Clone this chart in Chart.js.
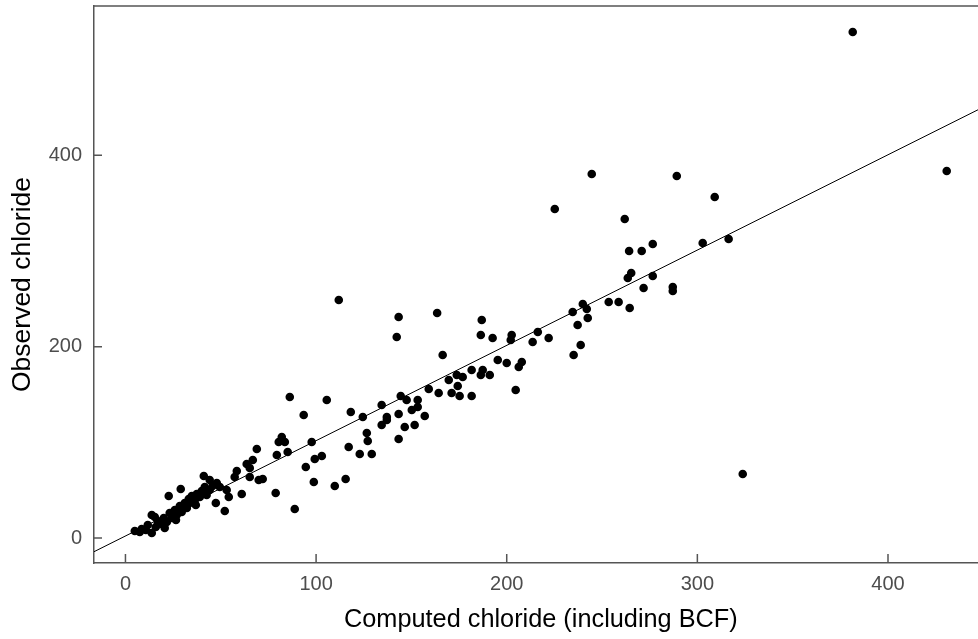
<!DOCTYPE html>
<html>
<head>
<meta charset="utf-8">
<script src="https://cdn.jsdelivr.net/npm/chart.js@4/dist/chart.umd.min.js"></script>
<style>
  html, body { margin: 0; padding: 0; background: #fff; overflow: hidden; }
  canvas { display: block; }
</style>
</head>
<body>
<canvas id="chart" width="992" height="639"></canvas>
<script>
/* ===== data ===== */
const computed = [
  381.5, 430.8, 323.8, 309.1, 244.6, 289.2, 225.2, 261.9, 264.2, 270.8,
  276.6, 302.8, 316.4, 265.3, 263.5, 276.6, 271.8, 287.1, 287.1, 253.5,
  258.7, 264.5, 239.9, 242.0, 234.6, 242.5, 237.2, 216.3, 213.6, 222.0,
  238.8, 235.1, 111.9, 143.3, 142.3, 163.5, 166.4, 186.9, 186.4, 192.6,
  202.6, 202.1, 195.3, 200.0, 207.9, 206.3, 204.7, 181.6, 187.4, 186.4,
  191.1, 176.9, 173.8, 169.6, 174.3, 171.1, 175.3, 181.6, 164.3, 159.1,
  144.4, 147.5, 153.3, 153.3, 150.2, 134.4, 143.3, 157.0, 124.5, 118.2,
  105.6, 93.5, 137.1, 137.1, 134.4, 146.5, 151.7, 126.6, 127.1, 143.3,
  117.1, 122.9, 129.2, 97.7, 99.3, 103.0, 94.6, 98.8, 109.8, 115.5,
  86.2, 82.0, 80.4, 83.6, 68.9, 79.4, 85.1, 66.8, 63.6, 65.2,
  58.4, 57.3, 65.2, 69.9, 72.0, 78.8, 88.8, 61.0, 54.2, 52.1,
  47.4, 41.1, 44.2, 47.9, 49.5, 53.1, 40.0, 29.0, 22.7, 34.8,
  33.7, 13.8, 4.9, 8.5, 13.8,
  10.7, 11.7, 15.9, 16.9, 19.1, 20.1, 21.7, 23.2, 24.3, 25.9,
  26.9, 28.5, 29.5, 31.1, 32.2, 33.2, 36.4, 37.4, 39.0, 41.6,
  42.6, 44.2, 45.7, 36.9, 26.5, 20.6, 15.4, 7.5
];
const observed = [
  528.9, 383.6, 66.9, 356.4, 380.5, 378.4, 343.9, 333.5, 300.0, 300.0,
  307.3, 308.4, 312.5, 277.0, 271.8, 273.9, 261.3, 262.4, 258.2, 246.7,
  246.7, 240.4, 244.6, 239.4, 236.2, 230.0, 222.6, 215.3, 204.9, 209.1,
  201.7, 191.3, 248.8, 231.0, 210.1, 235.2, 191.3, 227.9, 212.2, 209.1,
  212.2, 207.0, 186.1, 182.9, 184.0, 178.7, 154.7, 175.6, 175.6, 170.4,
  170.4, 168.3, 170.4, 165.2, 158.9, 151.6, 148.4, 148.4, 151.6, 155.7,
  148.4, 144.3, 144.3, 136.9, 133.8, 139.0, 129.6, 127.5, 126.5, 131.7,
  144.3, 128.6, 126.5, 123.3, 118.1, 116.0, 118.1, 109.8, 101.4, 103.5,
  95.1, 87.8, 87.8, 100.3, 82.6, 85.7, 74.2, 58.5, 54.4, 61.7,
  147.4, 105.6, 100.3, 100.3, 93.0, 86.8, 89.9, 81.5, 77.4, 73.2,
  70.0, 63.8, 63.8, 60.6, 61.7, 47.0, 30.3, 46.0, 42.9, 28.2,
  36.6, 64.8, 60.6, 57.5, 53.3, 50.2, 49.1, 51.2, 43.9, 43.9,
  36.6, 24.0, 7.3, 9.4, 5.2,
  8.4, 13.6, 11.5, 17.8, 14.6, 20.9, 16.7, 26.1, 20.9, 29.3,
  24.0, 33.4, 27.2, 36.6, 31.4, 40.8, 39.7, 46.0, 42.9, 53.3,
  44.9, 50.2, 54.4, 34.5, 18.8, 10.5, 22.0, 6.3
];

// fitted line, two ends read at the plot edges
const fitX = [-16.5, 452.3];
const fitY = [-14.3, 452.7];

const xTicks = [0, 100, 200, 300, 400];
const yTicks = [0, 200, 400];

const xTitle = "Computed chloride (including BCF)";
const yTitle = "Observed chloride";

/* ===== helpers ===== */
const toPoints = (xs, ys) => xs.map((x, i) => ({ x: x, y: ys[i] }));
const AXIS = "#555";

// frame on top + ticks drawn inward, like the original
const frameTicks = {
  id: "frameTicks",
  afterDraw(chart) {
    const { ctx, chartArea: a, scales } = chart;
    ctx.save();
    ctx.strokeStyle = AXIS;
    ctx.lineWidth = 1.5;
    ctx.beginPath();
    ctx.moveTo(a.left, a.top);
    ctx.lineTo(a.right, a.top);
    scales.x.ticks.forEach(t => {
      const px = scales.x.getPixelForValue(t.value);
      ctx.moveTo(px, a.bottom);
      ctx.lineTo(px, a.bottom - 9);
    });
    scales.y.ticks.forEach(t => {
      const py = scales.y.getPixelForValue(t.value);
      ctx.moveTo(a.left, py);
      ctx.lineTo(a.left + 8, py);
    });
    ctx.stroke();
    ctx.restore();
  }
};

const tickFont = { family: "'Liberation Sans', Arial, sans-serif", size: 20 };
const xTitleFont = { family: "'Liberation Sans', Arial, sans-serif", size: 25.3 };
const yTitleFont = { family: "'Liberation Sans', Arial, sans-serif", size: 26.5 };

new Chart(document.getElementById("chart"), {
  type: "scatter",
  data: {
    datasets: [
      {
        label: "fit",
        data: toPoints(fitX, fitY),
        showLine: true,
        borderColor: "#000",
        borderWidth: 1,
        pointRadius: 0
      },
      {
        label: "obs",
        data: toPoints(computed, observed),
        backgroundColor: "#000",
        borderWidth: 0,
        pointRadius: 4.3,
        pointHoverRadius: 4.3
      }
    ]
  },
  options: {
    responsive: false,
    animation: false,
    layout: { padding: { top: 6, right: 0, left: 0, bottom: 0 } },
    plugins: { legend: { display: false }, tooltip: { enabled: false } },
    scales: {
      x: {
        min: -16.5, max: 452.3,
        grid: { drawOnChartArea: false, drawTicks: false },
        border: { color: AXIS, width: 1.5 },
        ticks: { color: "#4d4d4d", font: tickFont, padding: 9, maxRotation: 0 },
        afterBuildTicks(s) { s.ticks = xTicks.map(v => ({ value: v })); },
        title: { display: true, text: xTitle, color: "#000", font: xTitleFont, padding: { top: 0, bottom: 4 } },
        afterFit(s) { s.height = 76; s.paddingLeft = 0; s.paddingRight = 0; }
      },
      y: {
        min: -26.1, max: 556.1,
        grid: { drawOnChartArea: false, drawTicks: false },
        border: { color: AXIS, width: 1.5 },
        ticks: { color: "#4d4d4d", font: tickFont, padding: 12 },
        afterBuildTicks(s) { s.ticks = yTicks.map(v => ({ value: v })); },
        title: { display: true, text: yTitle, color: "#000", font: yTitleFont, padding: { top: 7, bottom: 0 } },
        afterFit(s) { s.width = 94; s.paddingTop = 0; s.paddingBottom = 0; }
      }
    }
  },
  plugins: [frameTicks]
});
</script>
</body>
</html>
